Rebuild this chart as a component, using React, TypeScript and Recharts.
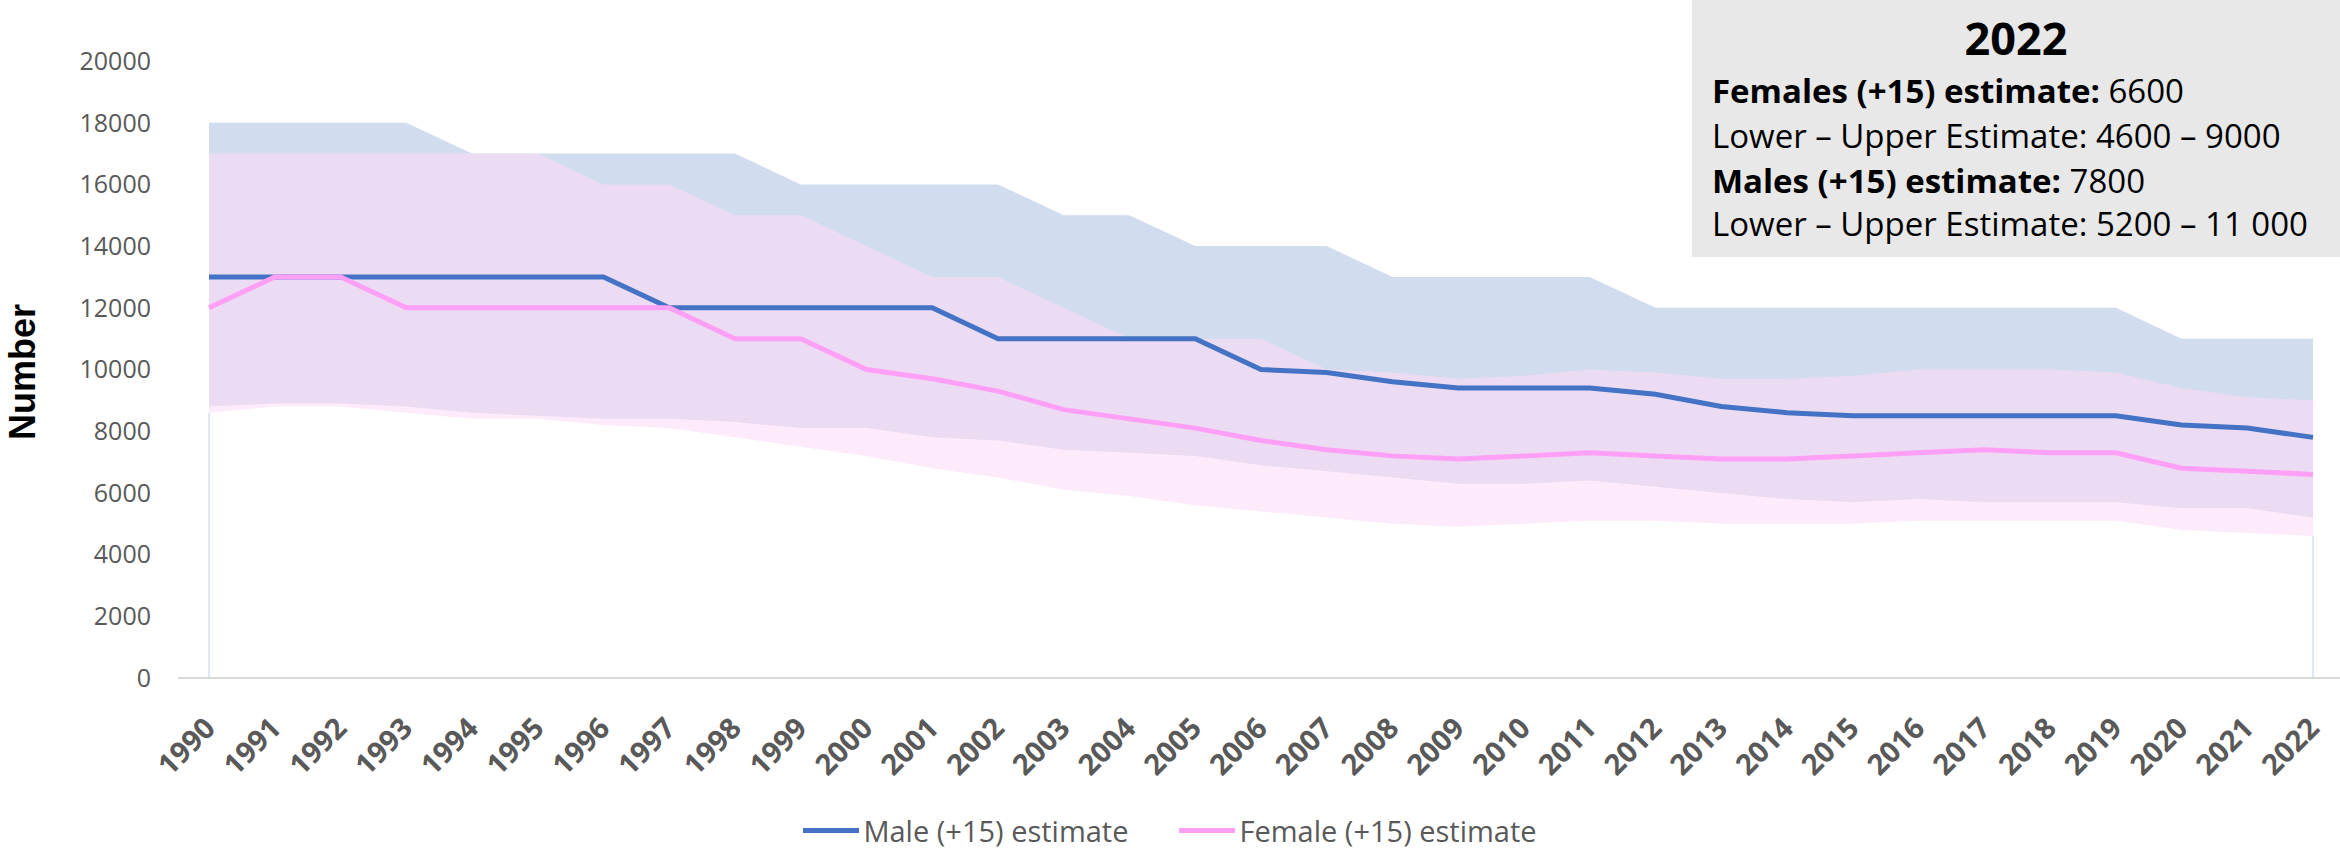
import { ComposedChart, Area, Line, XAxis, YAxis, Legend, ReferenceLine } from "recharts"

const years = [
  "1990", "1991", "1992", "1993", "1994", "1995", "1996", "1997", "1998", "1999", "2000",
  "2001", "2002", "2003", "2004", "2005", "2006", "2007", "2008", "2009", "2010", "2011",
  "2012", "2013", "2014", "2015", "2016", "2017", "2018", "2019", "2020", "2021", "2022",
]

const maleEstimate = [
  13000, 13000, 13000, 13000, 13000, 13000, 13000, 12000, 12000, 12000, 12000,
  12000, 11000, 11000, 11000, 11000, 10000, 9900, 9600, 9400, 9400, 9400,
  9200, 8800, 8600, 8500, 8500, 8500, 8500, 8500, 8200, 8100, 7800,
]
const maleLower = [
  8800, 8900, 8900, 8800, 8600, 8500, 8400, 8400, 8300, 8100, 8100,
  7800, 7700, 7400, 7300, 7200, 6900, 6700, 6500, 6300, 6300, 6400,
  6200, 6000, 5800, 5700, 5800, 5700, 5700, 5700, 5500, 5500, 5200,
]
const maleUpper = [
  18000, 18000, 18000, 18000, 17000, 17000, 17000, 17000, 17000, 16000, 16000,
  16000, 16000, 15000, 15000, 14000, 14000, 14000, 13000, 13000, 13000, 13000,
  12000, 12000, 12000, 12000, 12000, 12000, 12000, 12000, 11000, 11000, 11000,
]

const femaleEstimate = [
  12000, 13000, 13000, 12000, 12000, 12000, 12000, 12000, 11000, 11000, 10000,
  9700, 9300, 8700, 8400, 8100, 7700, 7400, 7200, 7100, 7200, 7300,
  7200, 7100, 7100, 7200, 7300, 7400, 7300, 7300, 6800, 6700, 6600,
]
const femaleLower = [
  8600, 8800, 8800, 8600, 8400, 8400, 8200, 8100, 7800, 7500, 7200,
  6800, 6500, 6100, 5900, 5600, 5400, 5200, 5000, 4900, 5000, 5100,
  5100, 5000, 5000, 5000, 5100, 5100, 5100, 5100, 4800, 4700, 4600,
]
const femaleUpper = [
  17000, 17000, 17000, 17000, 17000, 17000, 16000, 16000, 15000, 15000, 14000,
  13000, 13000, 12000, 11000, 11000, 11000, 10000, 9900, 9700, 9800, 10000,
  9900, 9700, 9700, 9800, 10000, 10000, 10000, 9900, 9400, 9100, 9000,
]

const yTicks = [0, 2000, 4000, 6000, 8000, 10000, 12000, 14000, 16000, 18000, 20000]

const BLUE = "#4472C4"
const PINK = "#FF9FF5"
const FONT = "'Open Sans', 'Noto Sans', sans-serif"
const GREY = "#595959"

const legendItems = [
  { label: "Male (+15) estimate", color: BLUE },
  { label: "Female (+15) estimate", color: PINK },
]

const rows = years.map((year, i) => ({
  year,
  male: maleEstimate[i],
  female: femaleEstimate[i],
  maleRange: [maleLower[i], maleUpper[i]],
  femaleRange: [femaleLower[i], femaleUpper[i]],
}))

const last = years.length - 1
// 11000 -> "11 000", 9000 stays "9000"
const fmt = (n: number) => (n >= 10000 ? n.toLocaleString("en-US").replace(/,/g, " ") : String(n))

function XTick({ x, y, payload }: any) {
  return (
    <g transform={`translate(${x + 8},${y + 44})`}>
      <text transform="rotate(-45)" textAnchor="end" fill={GREY} fontFamily={FONT} fontWeight="bold" fontSize={29}>
        {payload.value}
      </text>
    </g>
  )
}

function LegendContent() {
  return (
    <div style={{ display: "flex", justifyContent: "center", alignItems: "center", gap: 51, height: 40, fontFamily: FONT, fontSize: 29, color: GREY }}>
      {legendItems.map((item) => (
        <div key={item.label} style={{ display: "flex", alignItems: "center" }}>
          <span style={{ display: "inline-block", width: 56, height: 5, background: item.color, marginRight: 4 }} />
          {item.label}
        </div>
      ))}
    </div>
  )
}

function AxisTitle() {
  return (
    <text x={22} y={372} transform="rotate(-90 22 372)" textAnchor="middle" dominantBaseline="central"
      fontFamily="'Liberation Sans', Arial, sans-serif" fontWeight="bold" fontSize={36} fill="#000">
      Number
    </text>
  )
}

function InfoBox() {
  const line = { position: "absolute" as const, left: 20, height: 44, lineHeight: "44px", fontSize: 33, whiteSpace: "nowrap" as const }
  return (
    <div style={{ position: "absolute", left: 1692, top: 0, width: 648, height: 257, background: "#E8E8E8", fontFamily: FONT, color: "#000" }}>
      <div style={{ position: "absolute", left: 0, width: 648, top: 11, textAlign: "center", fontSize: 45, fontWeight: "bold", lineHeight: "54px" }}>
        {years[last]}
      </div>
      <div style={{ ...line, top: 69 }}>
        <b>Females (+15) estimate:</b> {fmt(femaleEstimate[last])}
      </div>
      <div style={{ ...line, top: 114 }}>
        Lower – Upper Estimate: {fmt(femaleLower[last])} – {fmt(femaleUpper[last])}
      </div>
      <div style={{ ...line, top: 159 }}>
        <b>Males (+15) estimate:</b> {fmt(maleEstimate[last])}
      </div>
      <div style={{ ...line, top: 202 }}>
        Lower – Upper Estimate: {fmt(maleLower[last])} – {fmt(maleUpper[last])}
      </div>
    </div>
  )
}

export default function App() {
  return (
    <div style={{ position: "absolute", left: 0, top: 0, width: 2340, height: 850, background: "#fff" }}>
      <ComposedChart width={2340} height={850} data={rows} margin={{ top: 61, right: 0, bottom: 0, left: 0 }}>
        <XAxis
          dataKey="year"
          scale="point"
          padding={{ left: 31, right: 27 }}
          axisLine={{ stroke: "#D9D9D9", strokeWidth: 2 }}
          tickLine={false}
          tick={<XTick />}
          interval={0}
          height={132}
        />
        <YAxis
          domain={[0, 20000]}
          ticks={yTicks}
          width={178}
          axisLine={false}
          tickLine={false}
          tickMargin={21}
          tick={{ fill: GREY, fontSize: 25, fontFamily: FONT }}
          label={AxisTitle}
        />
        <Area type="linear" dataKey="maleRange" stroke="none" fill="#D2DCEF" fillOpacity={1} isAnimationActive={false} legendType="none" activeDot={false} />
        <Area type="linear" dataKey="femaleRange" stroke="none" fill="#FBDCF6" fillOpacity={0.6} isAnimationActive={false} legendType="none" activeDot={false} />
        <ReferenceLine segment={[{ x: years[0], y: 0 }, { x: years[0], y: femaleLower[0] }]} stroke="#D6DFF0" strokeWidth={1.5} />
        <ReferenceLine segment={[{ x: years[last], y: 0 }, { x: years[last], y: femaleLower[last] }]} stroke="#D6DFF0" strokeWidth={1.5} />
        <Line type="linear" dataKey="male" stroke={BLUE} strokeWidth={5} dot={false} activeDot={false} isAnimationActive={false} />
        <Line type="linear" dataKey="female" stroke={PINK} strokeWidth={5} dot={false} activeDot={false} isAnimationActive={false} />
        <Legend verticalAlign="bottom" content={<LegendContent />} />
      </ComposedChart>
      <InfoBox />
    </div>
  )
}
